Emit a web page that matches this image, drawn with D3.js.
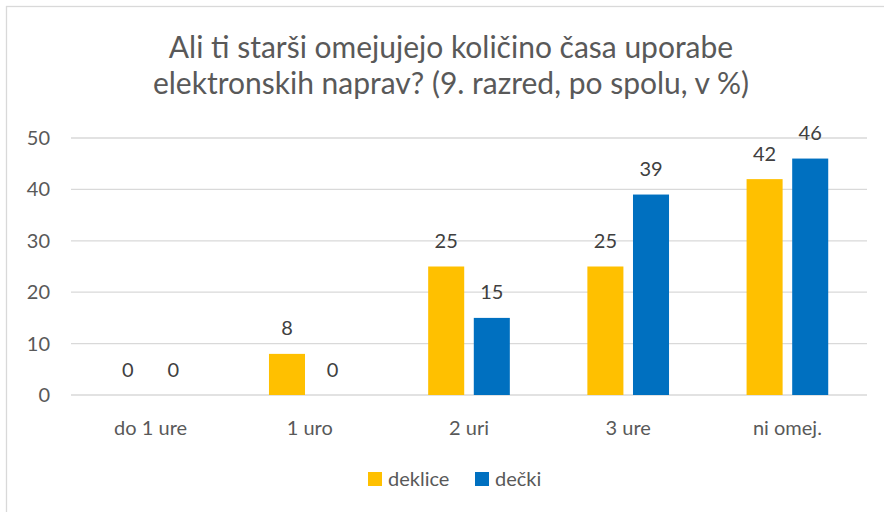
<!DOCTYPE html>
<html><head><meta charset="utf-8">
<script src="https://cdn.jsdelivr.net/npm/d3@7"></script>
<style>
html,body{margin:0;padding:0;background:#fff;}
svg{display:block;font-family:Lato,"Open Sans",sans-serif;}
</style></head>
<body>
<svg id="c" width="884" height="512"></svg>
<script>
const categories = ["do 1 ure", "1 uro", "2 uri", "3 ure", "ni omej."];
const seriesNames = ["deklice", "dečki"];
const deklice = [0, 8, 25, 25, 42];
const decki = [0, 0, 15, 39, 46];
const yTicks = [0, 10, 20, 30, 40, 50];
const titleLines = ["Ali ti starši omejujejo količino časa uporabe", "elektronskih naprav? (9. razred, po spolu, v %)"];
const colors = ["#FFC000", "#0070C0"];

const svg = d3.select("#c");
const textColor = "#595959";
const fs = 20;

// frame
svg.append("rect").attr("x", 6.5).attr("y", 6.5).attr("width", 900).attr("height", 520)
  .attr("fill", "#fff").attr("stroke", "#d9d9d9").attr("stroke-width", 1.3);

// title
svg.append("text").attr("x", 451).attr("y", 58).attr("text-anchor", "middle")
  .attr("font-size", 30).attr("fill", textColor)
  .selectAll("tspan").data(titleLines).join("tspan")
  .attr("x", 451).attr("dy", (d, i) => i ? 36 : 0).text(d => d);

const x0 = d3.scaleBand().domain(categories).range([71, 867]);
const x1 = d3.scaleBand().domain(seriesNames).range([0, x0.bandwidth()]).paddingInner(0.21).paddingOuter(0.85);
const y = d3.scaleLinear().domain([0, 50]).range([395, 138]);

// gridlines
svg.append("g").selectAll("line").data(yTicks).join("line")
  .attr("x1", 71).attr("x2", 867).attr("y1", d => y(d)).attr("y2", d => y(d))
  .attr("stroke", "#d9d9d9").attr("stroke-width", 1.3);

// y axis labels
const yAxis = svg.append("g").attr("transform", "translate(56,0)")
  .call(d3.axisLeft(y).tickValues(yTicks).tickSize(0).tickPadding(6));
yAxis.select(".domain").remove();
yAxis.selectAll("text").attr("font-size", fs).attr("fill", textColor).attr("font-family", "Lato,sans-serif");

// x axis labels
const xAxis = svg.append("g").attr("transform", "translate(0,395)")
  .call(d3.axisBottom(x0).tickSize(0).tickPadding(26));
xAxis.select(".domain").remove();
xAxis.selectAll("text").attr("font-size", fs).attr("fill", textColor).attr("font-family", "Lato,sans-serif");

const data = [deklice, decki];
const g = svg.append("g");
data.forEach((vals, si) => {
  const s = seriesNames[si];
  g.selectAll(".b" + si).data(vals).join("rect")
    .attr("x", (d, i) => x0(categories[i]) + x1(s))
    .attr("width", x1.bandwidth())
    .attr("y", d => y(d))
    .attr("height", d => y(0) - y(d))
    .attr("fill", colors[si]);
  g.selectAll(".l" + si).data(vals).join("text")
    .attr("x", (d, i) => x0(categories[i]) + x1(s) + x1.bandwidth() / 2)
    .attr("y", d => y(d) - 18.5)
    .attr("text-anchor", "middle")
    .attr("font-size", fs).attr("fill", "#404040")
    .text(d => d);
});

// legend
const legend = svg.append("g");
const lx = [368, 475];
seriesNames.forEach((s, i) => {
  legend.append("rect").attr("x", lx[i]).attr("y", 472).attr("width", 14).attr("height", 14).attr("fill", colors[i]);
  legend.append("text").attr("x", lx[i] + 20).attr("y", 486).attr("font-size", fs).attr("fill", textColor).text(s);
});
</script>
</body></html>
